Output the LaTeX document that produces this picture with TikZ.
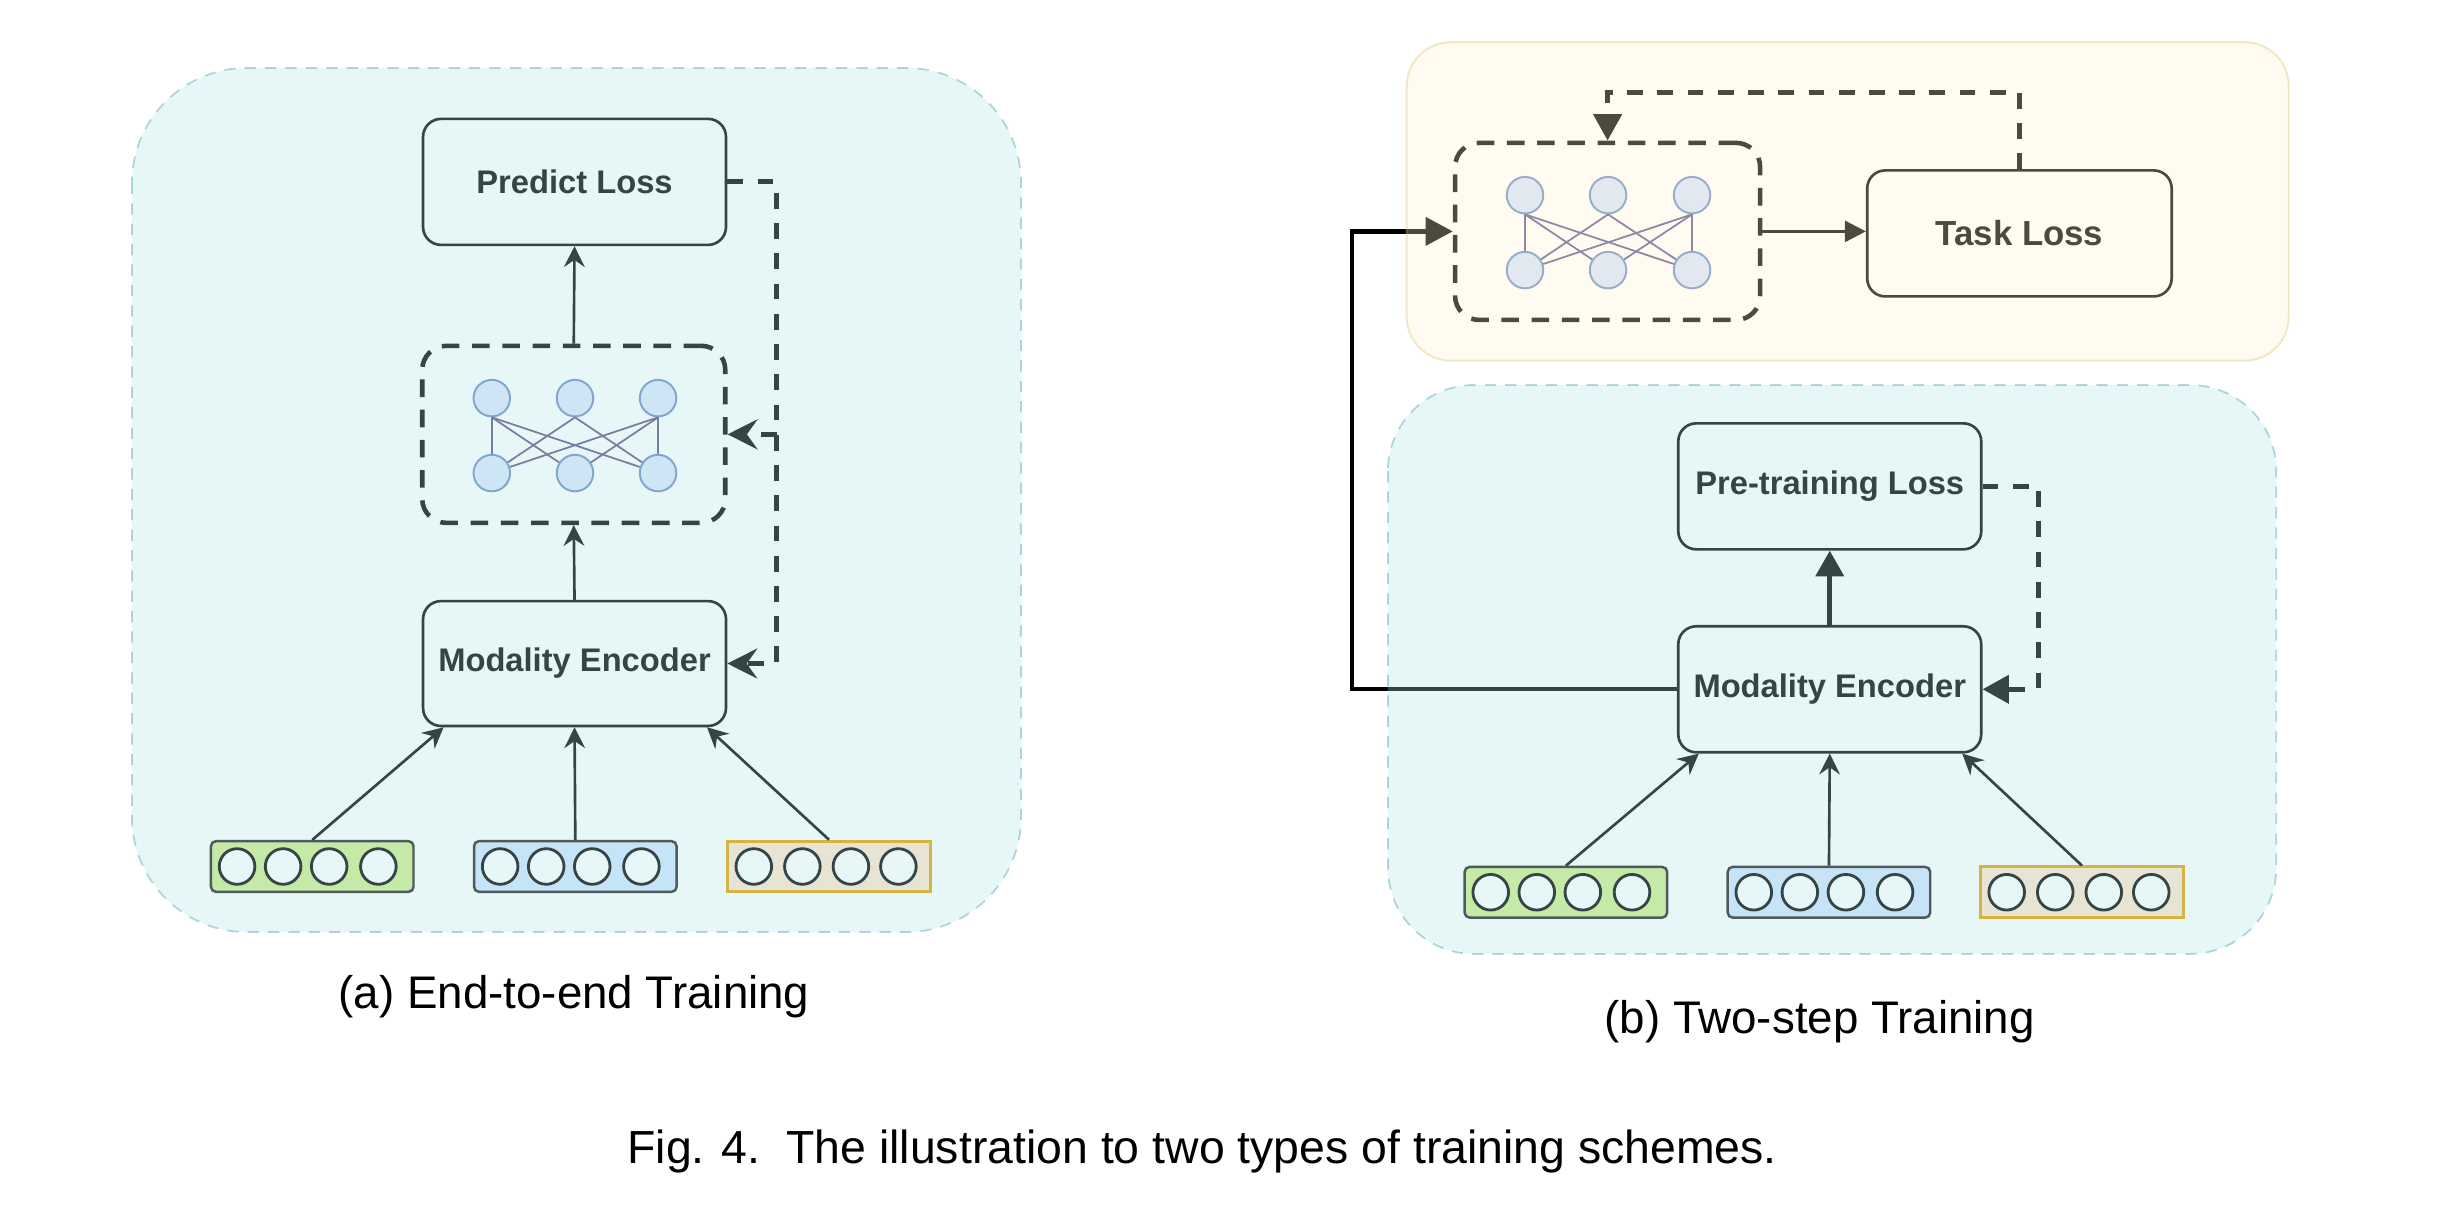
\documentclass[tikz,border=0pt]{standalone}
\usepackage{fontspec}
\setmainfont{Liberation Sans}
\usetikzlibrary{arrows.meta,calc}
\pgfdeclarelayer{under}
\pgfdeclarelayer{panel}
\pgfsetlayers{under,panel,main}

\definecolor{slate}{HTML}{354445}
\definecolor{olive}{HTML}{4D493D}
\definecolor{tealbg}{HTML}{E7F6F6}
\definecolor{tealbase}{HTML}{B0E3E6}
\definecolor{yelbase}{HTML}{FFF2CC}
\definecolor{tealline}{HTML}{0E8088}
\definecolor{yelline}{HTML}{D6B656}
\definecolor{nnfillA}{HTML}{CEE5F5}
\definecolor{nnlineA}{HTML}{80A7CB}
\definecolor{nnedgeA}{HTML}{7A7E9E}
\definecolor{nnfillB}{HTML}{E2E8EF}
\definecolor{nnlineB}{HTML}{97ADCA}
\definecolor{nnedgeB}{HTML}{8E88A6}
\definecolor{ingreen}{HTML}{C5E9A6}
\definecolor{inblue}{HTML}{C5E4F7}
\definecolor{inbeige}{HTML}{E7E4D4}
\definecolor{inbeigeline}{HTML}{D5B443}
\definecolor{ingrayline}{HTML}{4F5B5B}

\tikzset{
  box/.style={draw=#1, text=#1, line width=0.75pt, rounded corners=0.18cm,
    minimum width=3.029cm, minimum height=1.26cm, inner sep=0pt,
    font=\fontsize{9.3}{11}\selectfont\bfseries},
  nnbox/.style={draw=#1, line width=1.3pt, dash pattern=on 5pt off 3.6pt,
    rounded corners=0.24cm, minimum width=3.03cm, minimum height=1.77cm, inner sep=0pt},
  nnA/.style={circle, draw=nnlineA, fill=nnfillA, line width=0.55pt, minimum size=0.365cm, inner sep=0pt},
  nnB/.style={circle, draw=nnlineB, fill=nnfillB, line width=0.55pt, minimum size=0.365cm, inner sep=0pt},
  inrect/.style={rectangle, rounded corners=0.05cm, line width=0.7pt,
    minimum width=2.025cm, minimum height=0.507cm, inner sep=0pt},
  incirc/.style={draw=slate, fill=tealbg, line width=0.8pt},
  thinarrow/.style={draw=#1, line width=0.75pt, -{Stealth[length=5.9pt,width=5.9pt,inset=2pt]}},
  fbA/.style={draw=slate, line width=1.45pt, dash pattern=on 4.5pt off 4.1pt,
    -{Stealth[length=8.5pt,width=8.5pt,inset=3pt]}},
  fbB/.style={draw=#1, line width=1.4pt, dash pattern=on 4.5pt off 4.1pt,
    -{Triangle[length=7.5pt,width=7.9pt]}},
  panelT/.style={fill=tealbase, fill opacity=0.3, draw=tealline, draw opacity=0.3,
    line width=0.5pt, dash pattern=on 3.2pt off 2.6pt},
  panelY/.style={fill=yelbase, fill opacity=0.3, draw=yelline, draw opacity=0.3,
    line width=0.55pt, rounded corners=0.44cm},
  captext/.style={anchor=base, inner sep=0pt, font=\fontsize{13}{15.6}\selectfont}
}

\begin{document}
\begin{tikzpicture}[x=0.015612cm, y=-0.015612cm]
\useasboundingbox (0,0) rectangle (1568,776.3);

% ---------------- (a) End-to-end ----------------
\node[box=slate] (pla) at (368,116.5) {Predict Loss};
\node[nnbox=slate] (nna) at (367.5,278.2) {};
\node[box=slate, minimum height=1.249cm] (mea) at (368,425) {Modality Encoder};

\node[nnA] (a1) at (315,255) {};
\node[nnA] (a2) at (368.3,255) {};
\node[nnA] (a3) at (421.5,255) {};
\node[nnA] (a4) at (315,303) {};
\node[nnA] (a5) at (368.3,303) {};
\node[nnA] (a6) at (421.5,303) {};
\begin{scope}[draw=nnedgeA, line width=0.5pt]
  \draw (a1.south) -- (a4); \draw (a1.south) -- (a5); \draw (a1.south) -- (a6);
  \draw (a2.south) -- (a4); \draw (a2.south) -- (a6);
  \draw (a3.south) -- (a4); \draw (a3.south) -- (a5); \draw (a3.south) -- (a6);
\end{scope}

\node[inrect, fill=ingreen, draw=ingrayline] (ga) at (200,555) {};
\node[inrect, fill=inblue, draw=ingrayline] (ba) at (368.5,555) {};
\node[inrect, fill=inbeige, draw=inbeigeline, rounded corners=0pt, line width=0.8pt] (ya) at (531,555) {};
\foreach \n in {ga,ba}
  \foreach \dx in {17.5,47,76.5,108}
    \draw[incirc] ($(\n.west)+(\dx,0)$) circle[radius=0.178cm];
\foreach \dx in {17.6,48.7,79.8,110.2}
  \draw[incirc] ($(ya.west)+(\dx,0)$) circle[radius=0.178cm];

\draw[thinarrow=slate] (ga.north) -- ($(mea.south west)+(14,0)$);
\draw[thinarrow=slate] (ba.north) -- (mea.south);
\draw[thinarrow=slate] (ya.north) -- ($(mea.south east)+(-13,0)$);
\draw[thinarrow=slate] (mea.north) -- (nna.south);
\draw[thinarrow=slate] (nna.north) -- (pla.south);

\coordinate (fa) at (497.5,116.5);
\draw[fbA] (pla.east) -- (fa) -- (fa |- mea.east) -- (mea.east);
\draw[fbA] (fa |- nna.east) -- (nna.east);

\node[captext] (capa) at (367.7,645.7) {(a) End-to-end Training};

% ---------------- (b) Two-step ----------------
\node[box=slate] (plb) at (1172,311.5) {Pre-training Loss};
\node[box=slate] (meb) at (1172,441.5) {Modality Encoder};
\node[box=olive, minimum width=3.044cm, font=\fontsize{9.9}{12}\selectfont\bfseries] (tl) at (1293.5,149.5) {Task Loss};
\node[nnbox=olive, minimum width=3.05cm] (nnb) at (1029.7,148.2) {};

\node[nnB] (b1) at (976.8,125) {};
\node[nnB] (b2) at (1030,125) {};
\node[nnB] (b3) at (1083.8,125) {};
\node[nnB] (b4) at (976.8,173) {};
\node[nnB] (b5) at (1030,173) {};
\node[nnB] (b6) at (1083.8,173) {};
\begin{scope}[draw=nnedgeB, line width=0.5pt]
  \draw (b1.south) -- (b4); \draw (b1.south) -- (b5); \draw (b1.south) -- (b6);
  \draw (b2.south) -- (b4); \draw (b2.south) -- (b6);
  \draw (b3.south) -- (b4); \draw (b3.south) -- (b5); \draw (b3.south) -- (b6);
\end{scope}

\node[inrect, fill=ingreen, draw=ingrayline] (gb) at (1003,571.5) {};
\node[inrect, fill=inblue, draw=ingrayline] (bb) at (1171.5,571.5) {};
\node[inrect, fill=inbeige, draw=inbeigeline, rounded corners=0pt, line width=0.8pt] (yb) at (1333.5,571.5) {};
\foreach \n in {gb,bb}
  \foreach \dx in {17.5,47,76.5,108}
    \draw[incirc] ($(\n.west)+(\dx,0)$) circle[radius=0.178cm];
\foreach \dx in {17.6,48.7,79.8,110.2}
  \draw[incirc] ($(yb.west)+(\dx,0)$) circle[radius=0.178cm];

\draw[thinarrow=slate] (gb.north) -- ($(meb.south west)+(14,0)$);
\draw[thinarrow=slate] (bb.north) -- (meb.south);
\draw[thinarrow=slate] (yb.north) -- ($(meb.south east)+(-13,0)$);
\draw[draw=slate, line width=1.35pt, -{Triangle[length=7.3pt,width=7.9pt]}] (meb.north) -- (plb.south);

\coordinate (fb) at (1305.5,311.5);
\draw[fbB=slate] (plb.east) -- (fb) -- (fb |- meb.east) -- (meb.east);
\coordinate (ft) at (1293.5,59);
\draw[fbB=olive] (tl.north) -- (ft) -- (ft -| nnb.north) -- (nnb.north);
\draw[draw=olive, line width=0.75pt, -{Triangle[length=6pt,width=6pt]}] (nnb.east) -- (nnb.east -| tl.west);

\node[captext] (capb) at (1165.5,661.7) {(b) Two-step Training};
\node[captext, font=\fontsize{13.2}{15.8}\selectfont] (capf) at (770,745) {Fig. 4.\ \ The illustration to two types of training schemes.};

% ---------------- connector under the panels ----------------
\begin{pgfonlayer}{under}
\draw[black, line width=1.25pt, -{Triangle[length=7.7pt,width=7.9pt]}] (meb.west) -- ++(-208,0) |- (nnb.west);
\end{pgfonlayer}

% ---------------- panels ----------------
\begin{pgfonlayer}{panel}
\draw[panelT, rounded corners=1.15cm] (84.5,43.5) rectangle (654,597);
\draw[panelT, rounded corners=0.86cm] (889,246.6) rectangle (1458,611);
\draw[panelY] (901,27) rectangle (1466,231);
\end{pgfonlayer}
\end{tikzpicture}
\end{document}
